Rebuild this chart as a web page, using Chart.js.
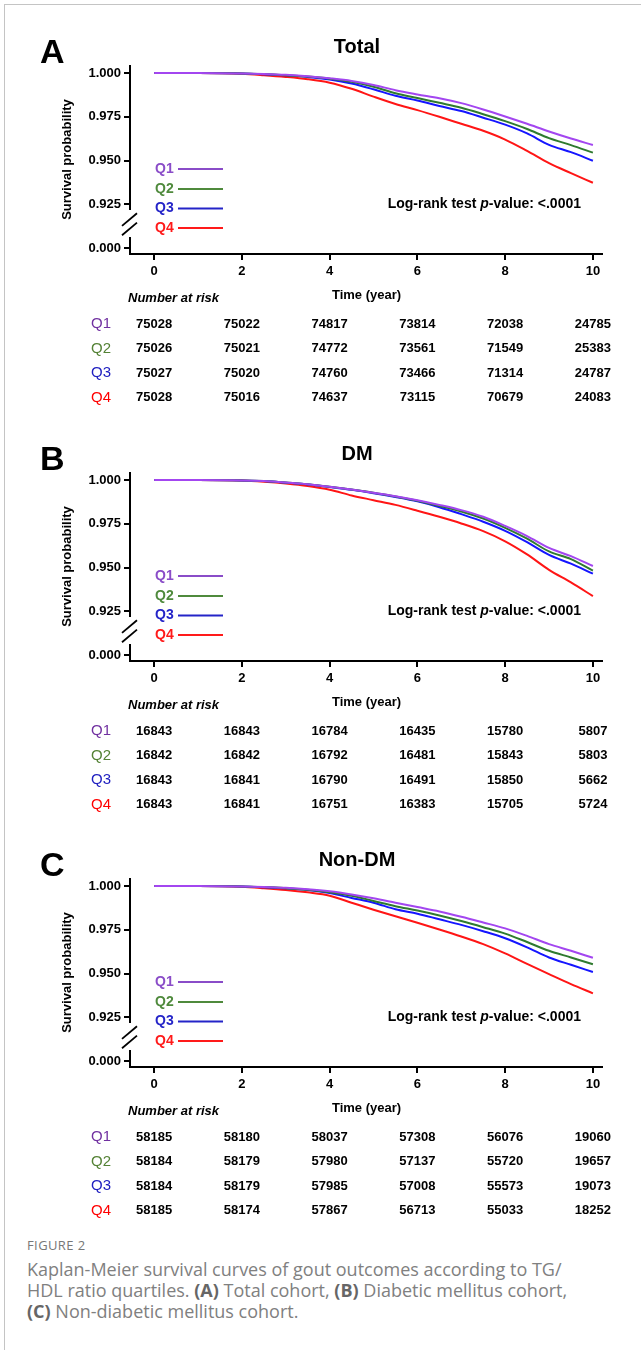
<!DOCTYPE html>
<html>
<head>
<meta charset="utf-8">
<title>Kaplan-Meier survival curves by TG/HDL quartile</title>
<script src="https://cdn.jsdelivr.net/npm/chart.js@4.4.1/dist/chart.umd.min.js"></script>
<style>
  html, body { margin: 0; padding: 0; background: #fff; }
  #page { position: relative; width: 641px; height: 1350px; overflow: hidden; background: #fff; }
  #frame { position: absolute; left: 4px; top: 4px; right: -2px; bottom: -2px;
           border-left: 1px solid #c4c4c4; border-top: 1px solid #c4c4c4; }
  canvas.panel { position: absolute; left: 0; }
  #figLabel { position: absolute; left: 27px; top: 1237px; font-family: 'Open Sans', Lato, sans-serif;
              font-size: 13px; line-height: 17px; color: #777; letter-spacing: 0.4px; }
  #figText { position: absolute; left: 27px; top: 1259px; font-family: 'Open Sans', Lato, sans-serif;
             font-size: 18px; line-height: 21px; color: #808080; white-space: nowrap; }
  #figText b { color: #666; font-weight: 700; }
</style>
</head>
<body>
<div id="page">
  <div id="frame"></div>
  <canvas id="chartTotal" class="panel" width="641" height="407" style="top:0px"></canvas>
  <canvas id="chartDM" class="panel" width="641" height="407" style="top:407px"></canvas>
  <canvas id="chartNonDM" class="panel" width="641" height="407" style="top:813px"></canvas>
  <div id="figLabel">FIGURE 2</div>
  <div id="figText">Kaplan-Meier survival curves of gout outcomes according to TG/<br>HDL ratio quartiles. <b>(A)</b> Total cohort, <b>(B)</b> Diabetic mellitus cohort,<br><b>(C)</b> Non-diabetic mellitus cohort.</div>
</div>
<script>
// ---- data ----
var years = [0, 1, 2, 2.5, 3, 3.5, 4, 4.5, 5, 5.5, 6, 6.5, 7, 7.5, 8, 8.5, 9, 9.5, 10];

// A - Total
var totalQ1 = [1.0000, 1.0000, 0.9998, 0.9995, 0.9990, 0.9982, 0.9970, 0.9955, 0.9932, 0.9902, 0.9878, 0.9856, 0.9828, 0.9792, 0.9752, 0.9710, 0.9666, 0.9626, 0.9589];
var totalQ2 = [1.0000, 1.0000, 0.9998, 0.9994, 0.9988, 0.9980, 0.9968, 0.9950, 0.9922, 0.9885, 0.9857, 0.9830, 0.9802, 0.9765, 0.9725, 0.9680, 0.9628, 0.9588, 0.9545];
var totalQ3 = [1.0000, 1.0000, 0.9998, 0.9993, 0.9987, 0.9978, 0.9963, 0.9940, 0.9907, 0.9870, 0.9843, 0.9812, 0.9783, 0.9745, 0.9705, 0.9655, 0.9590, 0.9548, 0.9499];
var totalQ4 = [1.0000, 1.0000, 0.9996, 0.9988, 0.9978, 0.9965, 0.9945, 0.9910, 0.9865, 0.9823, 0.9788, 0.9750, 0.9710, 0.9670, 0.9620, 0.9555, 0.9485, 0.9428, 0.9373];

// B - DM
var dmQ1 = [1.0000, 1.0000, 0.9998, 0.9994, 0.9986, 0.9976, 0.9962, 0.9946, 0.9928, 0.9908, 0.9885, 0.9858, 0.9828, 0.9790, 0.9738, 0.9680, 0.9612, 0.9565, 0.9509];
var dmQ2 = [1.0000, 1.0000, 0.9998, 0.9994, 0.9986, 0.9976, 0.9962, 0.9946, 0.9928, 0.9906, 0.9882, 0.9852, 0.9820, 0.9780, 0.9727, 0.9665, 0.9592, 0.9548, 0.9482];
var dmQ3 = [1.0000, 1.0000, 0.9998, 0.9994, 0.9985, 0.9975, 0.9960, 0.9944, 0.9925, 0.9903, 0.9878, 0.9845, 0.9805, 0.9762, 0.9710, 0.9645, 0.9572, 0.9522, 0.9465];
var dmQ4 = [1.0000, 1.0000, 0.9997, 0.9990, 0.9980, 0.9966, 0.9945, 0.9912, 0.9885, 0.9858, 0.9825, 0.9790, 0.9752, 0.9708, 0.9650, 0.9575, 0.9487, 0.9415, 0.9337];

// C - Non-DM
var nondmQ1 = [1.0000, 1.0000, 0.9998, 0.9995, 0.9990, 0.9982, 0.9970, 0.9952, 0.9930, 0.9905, 0.9880, 0.9855, 0.9825, 0.9792, 0.9758, 0.9715, 0.9668, 0.9630, 0.9590];
var nondmQ2 = [1.0000, 1.0000, 0.9998, 0.9994, 0.9988, 0.9979, 0.9965, 0.9945, 0.9915, 0.9885, 0.9860, 0.9832, 0.9800, 0.9765, 0.9728, 0.9680, 0.9630, 0.9592, 0.9553];
var nondmQ3 = [1.0000, 1.0000, 0.9998, 0.9993, 0.9987, 0.9977, 0.9960, 0.9932, 0.9905, 0.9867, 0.9842, 0.9810, 0.9778, 0.9742, 0.9702, 0.9650, 0.9592, 0.9550, 0.9509];
var nondmQ4 = [1.0000, 1.0000, 0.9996, 0.9988, 0.9978, 0.9964, 0.9945, 0.9905, 0.9865, 0.9827, 0.9790, 0.9752, 0.9712, 0.9668, 0.9615, 0.9555, 0.9497, 0.9440, 0.9387];

// number at risk
var riskTimes = [0, 2, 4, 6, 8, 10];
var totalRiskQ1 = [75028, 75022, 74817, 73814, 72038, 24785];
var totalRiskQ2 = [75026, 75021, 74772, 73561, 71549, 25383];
var totalRiskQ3 = [75027, 75020, 74760, 73466, 71314, 24787];
var totalRiskQ4 = [75028, 75016, 74637, 73115, 70679, 24083];
var dmRiskQ1 = [16843, 16843, 16784, 16435, 15780, 5807];
var dmRiskQ2 = [16842, 16842, 16792, 16481, 15843, 5803];
var dmRiskQ3 = [16843, 16841, 16790, 16491, 15850, 5662];
var dmRiskQ4 = [16843, 16841, 16751, 16383, 15705, 5724];
var nondmRiskQ1 = [58185, 58180, 58037, 57308, 56076, 19060];
var nondmRiskQ2 = [58184, 58179, 57980, 57137, 55720, 19657];
var nondmRiskQ3 = [58184, 58179, 57985, 57008, 55573, 19073];
var nondmRiskQ4 = [58185, 58174, 57867, 56713, 55033, 18252];

var groups = ['Q1', 'Q2', 'Q3', 'Q4'];
// 0.9 on the scale stands for the broken-off 0.000 tick
var yTickValues = [0.9, 0.925, 0.95, 0.975, 1.0];
var yTickLabels = ['0.000', '0.925', '0.950', '0.975', '1.000'];

// ---- styling ----
var lineColors = ['#a346f0', '#2f7a2f', '#1515ff', '#ff1515'];
var keyColors = ['#8a4cc8', '#4f8a3c', '#2424c8', '#ff1a1a'];
var rowColors = ['#7030a0', '#548235', '#2020c0', '#ff0000'];
var FONT = "'Liberation Sans', Arial, Helvetica, sans-serif";
Chart.defaults.font.family = FONT;
Chart.defaults.color = '#000';

// axes with break, key, p-value, risk table
var kmDecor = {
  id: 'kmDecor',
  afterDraw: function(chart, args, opts) {
    var ctx = chart.ctx, a = chart.chartArea;
    var xs = chart.scales.x, ys = chart.scales.y;
    ctx.save();

    // axis lines, y axis broken between 0.000 and 0.925
    ctx.strokeStyle = '#000';
    ctx.lineWidth = 2;
    ctx.beginPath();
    ctx.moveTo(a.left, a.top);
    ctx.lineTo(a.left, ys.getPixelForValue(0.9217));
    ctx.moveTo(a.left, ys.getPixelForValue(0.9063));
    ctx.lineTo(a.left, a.bottom);
    ctx.lineTo(a.right, a.bottom);
    ctx.stroke();

    // break slashes
    ctx.lineWidth = 1.8;
    [0.9163, 0.9109].forEach(function(v) {
      var cy = ys.getPixelForValue(v);
      ctx.beginPath();
      ctx.moveTo(a.left - 8, cy + 6.3);
      ctx.lineTo(a.left + 7, cy - 6.3);
      ctx.stroke();
    });

    // panel letter and title
    ctx.fillStyle = '#000';
    ctx.textBaseline = 'alphabetic';
    ctx.textAlign = 'left';
    ctx.font = 'bold 34px ' + FONT;
    ctx.fillText(opts.letter, 40, 63);
    ctx.textAlign = 'center';
    ctx.font = 'bold 20px ' + FONT;
    ctx.fillText(opts.title, 357, 53);

    // key
    ctx.textBaseline = 'middle';
    ctx.textAlign = 'left';
    ctx.font = 'bold 14px ' + FONT;
    var keyY = [169, 189, 208.5, 228];
    groups.forEach(function(g, i) {
      ctx.fillStyle = keyColors[i];
      ctx.fillText(g, 155, keyY[i]);
      ctx.strokeStyle = keyColors[i];
      ctx.lineWidth = 2;
      ctx.beginPath();
      ctx.moveTo(178, keyY[i]);
      ctx.lineTo(223, keyY[i]);
      ctx.stroke();
    });

    // log-rank text, right aligned
    var parts = [['Log-rank test ', 'bold 14px '], ['p', 'italic bold 14px '], ['-value: <.0001', 'bold 14px ']];
    var total = 0;
    parts.forEach(function(p) { ctx.font = p[1] + FONT; total += ctx.measureText(p[0]).width; });
    var px = 581 - total;
    ctx.fillStyle = '#000';
    parts.forEach(function(p) {
      ctx.font = p[1] + FONT;
      ctx.fillText(p[0], px, 204);
      px += ctx.measureText(p[0]).width;
    });

    // number at risk
    ctx.font = 'italic bold 13px ' + FONT;
    ctx.fillText('Number at risk', 128, 298);
    var rowY = [324, 348.5, 373, 397.5];
    opts.risk.forEach(function(row, i) {
      ctx.textAlign = 'center';
      ctx.font = '15px ' + FONT;
      ctx.fillStyle = rowColors[i];
      ctx.fillText(groups[i], 101, rowY[i]);
      ctx.font = 'bold 13px ' + FONT;
      ctx.fillStyle = '#000';
      row.forEach(function(n, j) {
        ctx.fillText(String(n), xs.getPixelForValue(riskTimes[j]), rowY[i]);
      });
    });
    ctx.restore();
  }
};

function makePanel(id, letter, title, series, risk) {
  var H = 407;
  var datasets = series.map(function(vals, i) {
    return {
      label: groups[i],
      data: years.map(function(t, k) { return {x: t, y: vals[k]}; }),
      borderColor: lineColors[i],
      borderWidth: 2,
      pointRadius: 0,
      cubicInterpolationMode: 'monotone',
      fill: false
    };
  });
  new Chart(document.getElementById(id), {
    type: 'line',
    data: {datasets: datasets},
    options: {
      responsive: false,
      animation: false,
      layout: {padding: {top: 65, right: 38, bottom: 0, left: 0}},
      plugins: {
        legend: {display: false},
        tooltip: {enabled: false},
        kmDecor: {letter: letter, title: title, risk: risk}
      },
      scales: {
        x: {
          type: 'linear',
          min: -0.55,
          max: 10.23,
          afterBuildTicks: function(s) { s.ticks = riskTimes.map(function(v) { return {value: v}; }); },
          afterFit: function(s) { s.height = H - 254; },
          ticks: {font: {size: 13, weight: 'bold'}, color: '#000', padding: 4, autoSkip: false, maxRotation: 0,
                  callback: function(v) { return String(v); }},
          grid: {display: true, drawOnChartArea: false, drawTicks: true, tickLength: 6, color: '#000', lineWidth: 2},
          border: {display: false},
          title: {display: true, text: 'Time (year)', color: '#000', font: {size: 13, weight: 'bold'},
                  padding: {top: 0, bottom: 104}}
        },
        y: {
          type: 'linear',
          min: 0.8966,
          max: 1.0046,
          afterBuildTicks: function(s) { s.ticks = yTickValues.map(function(v) { return {value: v}; }); },
          afterFit: function(s) { s.width = 130; },
          ticks: {font: {size: 13, weight: 'bold'}, color: '#000', padding: 3,
                  callback: function(v) { var k = yTickValues.indexOf(v); return k >= 0 ? yTickLabels[k] : ''; }},
          grid: {display: true, drawOnChartArea: false, drawTicks: true, tickLength: 6, color: '#000', lineWidth: 2},
          border: {display: false},
          title: {display: true, text: 'Survival probability', color: '#000', font: {size: 13, weight: 'bold'},
                  padding: {top: 60, bottom: 0}}
        }
      }
    },
    plugins: [kmDecor]
  });
}

makePanel('chartTotal', 'A', 'Total', [totalQ1, totalQ2, totalQ3, totalQ4],
          [totalRiskQ1, totalRiskQ2, totalRiskQ3, totalRiskQ4]);
makePanel('chartDM', 'B', 'DM', [dmQ1, dmQ2, dmQ3, dmQ4],
          [dmRiskQ1, dmRiskQ2, dmRiskQ3, dmRiskQ4]);
makePanel('chartNonDM', 'C', 'Non-DM', [nondmQ1, nondmQ2, nondmQ3, nondmQ4],
          [nondmRiskQ1, nondmRiskQ2, nondmRiskQ3, nondmRiskQ4]);
</script>
</body>
</html>
